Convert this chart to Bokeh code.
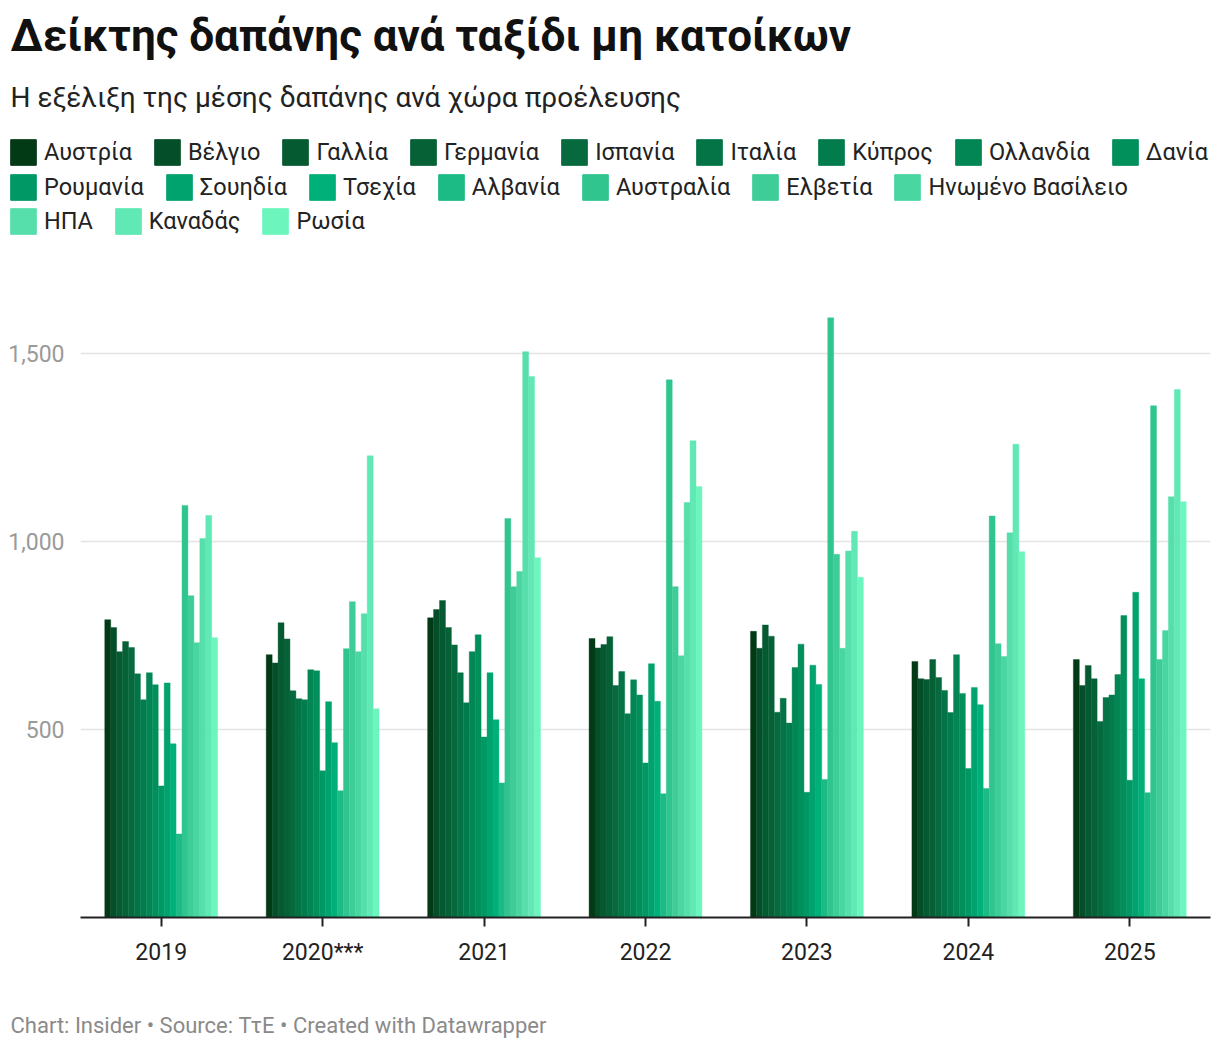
from bokeh.plotting import figure
from bokeh.layouts import column
from bokeh.models import (Legend, LegendItem, Label, FixedTicker, NumeralTickFormatter,
                          ColumnDataSource, FactorRange, Range1d)
from bokeh.transform import dodge
from bokeh.embed import file_html
from bokeh.resources import INLINE

years = ["2019", "2020***", "2021", "2022", "2023", "2024", "2025"]
countries = ["Αυστρία", "Βέλγιο", "Γαλλία", "Γερμανία", "Ισπανία", "Ιταλία", "Κύπρος",
             "Ολλανδία", "Δανία", "Ρουμανία", "Σουηδία", "Τσεχία", "Αλβανία", "Αυστραλία",
             "Ελβετία", "Ηνωμένο Βασίλειο", "ΗΠΑ", "Καναδάς", "Ρωσία"]

v2019 = [792, 771, 707, 734, 718, 648, 579, 651, 619, 350, 624, 462, 222, 1096, 856, 731, 1008, 1069, 744]
v2020 = [699, 677, 784, 741, 603, 582, 579, 659, 656, 390, 574, 465, 337, 715, 840, 707, 808, 1228, 555]
v2021 = [797, 819, 843, 771, 725, 651, 571, 707, 752, 480, 651, 526, 358, 1061, 880, 920, 1505, 1439, 957]
v2022 = [742, 717, 726, 747, 617, 654, 542, 632, 592, 411, 675, 575, 329, 1430, 880, 696, 1104, 1268, 1146]
v2023 = [761, 716, 778, 748, 546, 583, 517, 665, 727, 333, 671, 620, 367, 1595, 966, 716, 975, 1027, 905]
v2024 = [681, 635, 633, 686, 638, 604, 545, 699, 596, 396, 612, 566, 343, 1068, 728, 694, 1023, 1259, 973]
v2025 = [686, 617, 670, 635, 521, 585, 592, 646, 803, 365, 865, 635, 332, 1361, 686, 763, 1119, 1404, 1106]

colors = ["#033a16", "#044f2a", "#055a32", "#066137", "#066a3e", "#047345", "#037c4d",
          "#028654", "#018f5c", "#009865", "#00a26e", "#00b079", "#1cba85", "#30c58f",
          "#3ecd98", "#4ad6a1", "#56dfaa", "#60e9b4", "#6df5be"]

y_ticks = [500, 1000, 1500]

title_text = "Δείκτης δαπάνης ανά ταξίδι μη κατοίκων"
subtitle_text = "Η εξέλιξη της μέσης δαπάνης ανά χώρα προέλευσης"
footer_text = "Chart: Insider • Source: ΤτΕ • Created with Datawrapper"

FONT = "Roboto"
W = 1220
n = len(countries)

by_year = [v2019, v2020, v2021, v2022, v2023, v2024, v2025]
data = {"year": years, "idx": list(range(len(years)))}
for i in range(n):
    data[f"s{i}"] = [yr[i] for yr in by_year]
src = ColumnDataSource(data)


def bare(h):
    fig = figure(width=W, height=h, x_range=Range1d(0, W), y_range=Range1d(h, 0),
                 output_backend="svg", toolbar_location=None, title=None,
                 x_axis_location=None, y_axis_location=None,
                 min_border=0, min_border_left=0, min_border_right=0,
                 min_border_top=0, min_border_bottom=0)
    fig.frame_align = False
    fig.outline_line_color = None
    fig.xgrid.visible = False
    fig.ygrid.visible = False
    return fig


# ---------------- header: title, subtitle, legend ----------------
HH = 240
head = bare(HH)
head.add_layout(Label(x=10, y=35, text=title_text, text_font=FONT, text_font_style="bold",
                      text_font_size="44px", text_color="#111111", text_baseline="middle"))
head.add_layout(Label(x=10, y=97, text=subtitle_text, text_font=FONT,
                      text_font_size="28px", text_color="#222222", text_baseline="middle"))

# hidden renderers of the same series, used only to give the legend its swatches
hooks = []
for i in range(n):
    hooks.append(head.vbar(x="idx", top=f"s{i}", width=0.5, source=src, visible=False,
                           fill_color=colors[i], line_color=colors[i]))

LG = 32
rows = [(0, 9, 72), (9, 16, 37.5), (16, 19, 3)]
for a, b, yy in rows:
    leg = Legend(items=[LegendItem(label=countries[i], renderers=[hooks[i]]) for i in range(a, b)],
                 location=(7, yy), orientation="horizontal",
                 glyph_width=LG, glyph_height=LG, label_standoff=5, spacing=19,
                 padding=0, margin=0, border_line_color=None, background_fill_alpha=0,
                 inactive_fill_alpha=0,
                 label_text_font=FONT, label_text_font_size="23.5px",
                 label_text_color="#222222", label_height=LG)
    head.add_layout(leg)

# ---------------- main chart ----------------
MT = 60
FRAME_H = 617
MB = 70
MH = MT + FRAME_H + MB
p = figure(x_range=FactorRange(*years, range_padding=0), y_range=(0, 1641),
           width=W, height=MH, output_backend="svg", toolbar_location=None,
           title=None, min_border_left=80, min_border_right=10,
           min_border_top=MT, min_border_bottom=MB)
p.frame_align = False

bw = 0.0368
for i in range(n):
    off = (i - (n - 1) / 2) * bw
    p.vbar(x=dodge("year", off, range=p.x_range), top=f"s{i}", width=bw, source=src,
           fill_color=colors[i], line_color=colors[i], line_width=0.4)

p.outline_line_color = None
p.xgrid.visible = False
p.ygrid.grid_line_color = "#e4e4e4"
p.ygrid.grid_line_width = 1.5

p.yaxis.ticker = FixedTicker(ticks=y_ticks)
p.yaxis.formatter = NumeralTickFormatter(format="0,0")
p.yaxis.axis_line_color = None
p.yaxis.major_tick_line_color = None
p.yaxis.minor_tick_line_color = None
p.yaxis.major_label_text_font = FONT
p.yaxis.major_label_text_font_size = "23px"
p.yaxis.major_label_text_color = "#9a9a9a"
p.yaxis.major_label_standoff = 10

p.xaxis.axis_line_color = "#222222"
p.xaxis.axis_line_width = 2
p.xaxis.major_tick_line_color = "#222222"
p.xaxis.major_tick_line_width = 2
p.xaxis.major_tick_out = 9
p.xaxis.major_tick_in = 0
p.xaxis.minor_tick_line_color = None
p.xaxis.major_label_text_font = FONT
p.xaxis.major_label_text_font_size = "23px"
p.xaxis.major_label_text_color = "#222222"
p.xaxis.major_label_standoff = 12

# ---------------- footer ----------------
FH = 60
foot = bare(FH)
foot.add_layout(Label(x=10, y=38, text=footer_text, text_font=FONT,
                      text_font_size="22px", text_color="#8a8a8a", text_baseline="middle"))

layout = column(head, p, foot, spacing=0)
open("out.html", "w").write(file_html(layout, INLINE))
